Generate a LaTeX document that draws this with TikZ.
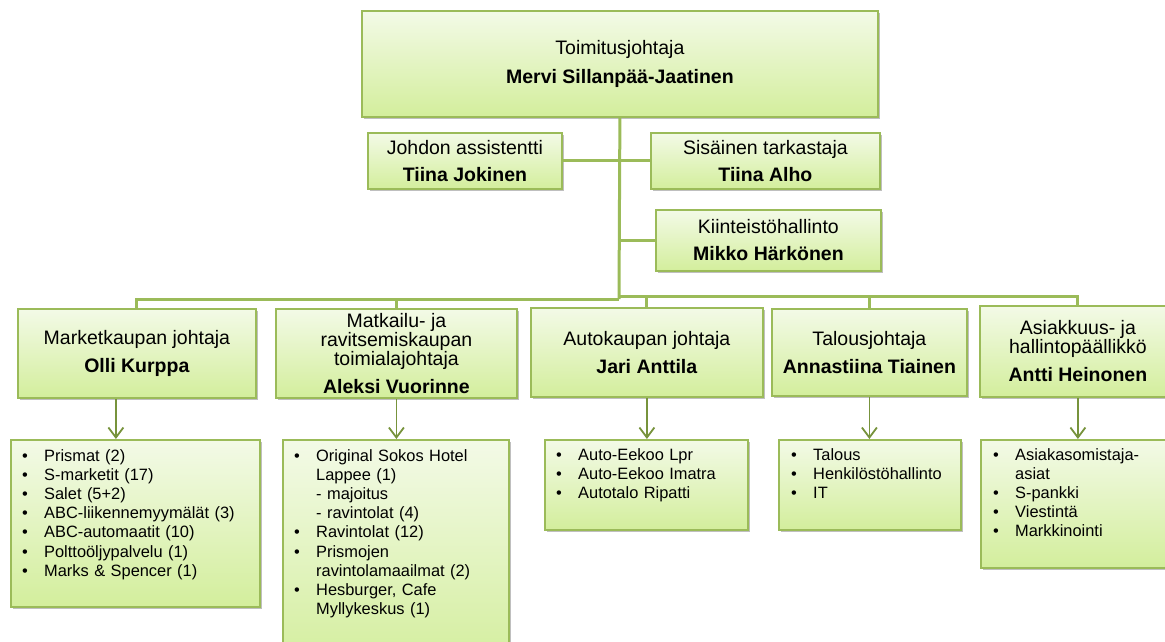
\documentclass[tikz,border=0pt]{standalone}
\usepackage{fontspec}
\setmainfont{Liberation Sans}
\usetikzlibrary{arrows.meta,shadows}
\definecolor{bord}{HTML}{9BBB59}
\definecolor{arrc}{HTML}{77933C}
\definecolor{ftop}{HTML}{F3FAE7}
\definecolor{fbot}{HTML}{D3EE9C}
\newcommand{\bitem}[1]{\makebox[22pt][l]{\textbullet}#1}
\newcommand{\bcont}[1]{\hspace*{22pt}#1}
\begin{document}
\begin{tikzpicture}[x=1pt,y=-1pt,
  box/.style={draw=bord,line width=1.8pt,top color=ftop,bottom color=fbot,inner sep=0pt,
    anchor=north west,align=center,font=\fontsize{19.5}{19}\selectfont,
    drop shadow={shadow xshift=2pt,shadow yshift=-2.5pt,opacity=0.25,fill=black}},
  conn/.style={draw=bord,line width=3pt},
  arr/.style={draw=arrc,line width=1.8pt,-{Straight Barb[length=10pt,width=15pt]}},
  lst/.style={anchor=base west,inner sep=0pt,align=left,text width=250pt,
    font=\fontsize{16.4}{19.2}\selectfont}]
\useasboundingbox (0,0) rectangle (1165,641);

% top level
\node[box,minimum width=516pt,minimum height=106pt] (top) at (361,10)
  {Toimitusjohtaja\\[10pt]\textbf{Mervi Sillanpää-Jaatinen}};
\node[box,minimum width=194pt,minimum height=56pt] (ja) at (367,132)
  {Johdon assistentti\\[8pt]\textbf{Tiina Jokinen}};
\node[box,minimum width=229pt,minimum height=56pt] (st) at (650,132)
  {Sisäinen tarkastaja\\[8pt]\textbf{Tiina Alho}};
\node[box,minimum width=225pt,minimum height=61pt] (kh) at (655,209)
  {Kiinteistöhallinto\\[8pt]\textbf{Mikko Härkönen}};

% second level
\node[box,minimum width=238pt,minimum height=89pt] (m1) at (17,308)
  {Marketkaupan johtaja\\[9pt]\textbf{Olli Kurppa}};
\node[box,minimum width=241pt,minimum height=89pt] (m2) at (275,308)
  {Matkailu- ja\\ravitsemiskaupan\\toimialajohtaja\\[9pt]\textbf{Aleksi Vuorinne}};
\node[box,minimum width=232pt,minimum height=89pt] (m3) at (530,307)
  {Autokaupan johtaja\\[9pt]\textbf{Jari Anttila}};
\node[box,minimum width=195pt,minimum height=87pt] (m4) at (771,308)
  {Talousjohtaja\\[9pt]\textbf{Annastiina Tiainen}};
\node[box,minimum width=196pt,minimum height=91pt] (m5) at (979,305)
  {Asiakkuus- ja\\hallintopäällikkö\\[9pt]\textbf{Antti Heinonen}};

% third level boxes
\node[box,minimum width=249pt,minimum height=167pt] (l1) at (10,439) {};
\node[box,minimum width=226pt,minimum height=230pt] (l2) at (282,439) {};
\node[box,minimum width=203pt,minimum height=90pt] (l3) at (544,439) {};
\node[box,minimum width=182pt,minimum height=90pt] (l4) at (778,439) {};
\node[box,minimum width=195pt,minimum height=128pt] (l5) at (980,439) {};

\node[lst] (l1t) at (22,461) {\bitem{Prismat (2)}\\\bitem{S-marketit (17)}\\\bitem{Salet (5+2)}\\
  \bitem{ABC-liikennemyymälät (3)}\\\bitem{ABC-automaatit (10)}\\\bitem{Polttoöljypalvelu (1)}\\
  \bitem{Marks \& Spencer (1)}};
\node[lst] (l2t) at (294,461) {\bitem{Original Sokos Hotel}\\\bcont{Lappee (1)}\\\bcont{- majoitus}\\
  \bcont{- ravintolat (4)}\\\bitem{Ravintolat (12)}\\\bitem{Prismojen}\\\bcont{ravintolamaailmat (2)}\\
  \bitem{Hesburger, Cafe}\\\bcont{Myllykeskus (1)}};
\node[lst] (l3t) at (556,460) {\bitem{Auto-Eekoo Lpr}\\\bitem{Auto-Eekoo Imatra}\\\bitem{Autotalo Ripatti}};
\node[lst] (l4t) at (791,460) {\bitem{Talous}\\\bitem{Henkilöstöhallinto}\\\bitem{IT}};
\node[lst] (l5t) at (993,460) {\bitem{Asiakasomistaja-}\\\bcont{asiat}\\\bitem{S-pankki}\\
  \bitem{Viestintä}\\\bitem{Markkinointi}};

% connectors
\coordinate (tb) at (619,299);
\coordinate (tr) at (619,296);
\draw[conn] (top.south) -- (tb);
\draw[conn] (ja.east) -- (ja.east -| top.south);
\draw[conn] (st.west) -- (st.west -| top.south);
\draw[conn] (kh.west) -- (kh.west -| top.south);
\draw[conn] (tb) -| (m1.north);
\draw[conn] (m2.north) -- (m2.north |- tb);
\draw[conn] (tr) -| (m5.north);
\draw[conn] (m3.north) -- (m3.north |- tr);
\draw[conn] (m4.north) -- (m4.north |- tr);

% arrows
\draw[arr] ([xshift=-21pt]m1.south) coordinate (a1) -- (a1 |- l1.north);
\draw[arr] (m2.south) -- (m2.south |- l2.north);
\draw[arr] (m3.south) -- (m3.south |- l3.north);
\draw[arr] (m4.south) -- (m4.south |- l4.north);
\draw[arr] (m5.south) -- (m5.south |- l5.north);
\end{tikzpicture}
\end{document}
